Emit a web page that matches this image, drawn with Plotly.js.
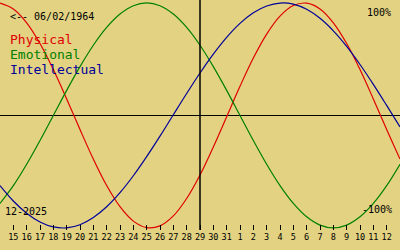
<!DOCTYPE html>
<html><head><meta charset="utf-8">
<script src="https://cdn.plot.ly/plotly-3.0.1.min.js"></script>
<style>html,body{margin:0;padding:0;background:#e2d282;}#chart{width:400px;height:250px;}</style>
</head><body><div id="chart"></div>
<script>
// day offsets from left edge (Dec 14, 2025)
var days = [0,1,2,3,4,5,6,7,8,9,10,11,12,13,14,15,16,17,18,19,20,21,22,23,24,25,26,27,28,29,30];
var physical = [0.998,0.946,0.823,0.639,0.408,0.147,-0.125,-0.388,-0.623,-0.811,-0.939,-0.997,-0.981,-0.893,-0.738,-0.529,-0.280,-0.011,0.259,0.510,0.723,0.883,0.977,0.998,0.946,0.823,0.639,0.408,0.147,-0.125,-0.388];
var emotional = [-0.782,-0.624,-0.434,-0.223,0.000,0.223,0.434,0.624,0.782,0.901,0.975,1.000,0.975,0.901,0.782,0.624,0.434,0.223,0.000,-0.223,-0.434,-0.624,-0.782,-0.901,-0.975,-1.000,-0.975,-0.901,-0.782,-0.624,-0.434];
var intellectual = [-0.623,-0.760,-0.869,-0.947,-0.991,-0.999,-0.971,-0.907,-0.811,-0.686,-0.536,-0.366,-0.184,0.006,0.195,0.377,0.545,0.694,0.818,0.912,0.973,0.999,0.989,0.943,0.863,0.752,0.614,0.453,0.276,0.089,-0.101];
var tickDays = [1,2,3,4,5,6,7,8,9,10,11,12,13,14,15,16,17,18,19,20,21,22,23,24,25,26,27,28,29];
var tickLabels = ["15","16","17","18","19","20","21","22","23","24","25","26","27","28","29","30","31","1","2","3","4","5","6","7","8","9","10","11","12"];
var todayDay = 15;

var RED='#e00000', GREEN='#008000', BLUE='#000099', BG='#e2d282';
var mono = 'DejaVu Sans Mono, monospace';

var traces = [
  {x: days, y: physical, mode:'lines', line:{color:RED, width:1.2, shape:'spline'}, hoverinfo:'skip'},
  {x: days, y: emotional, mode:'lines', line:{color:GREEN, width:1.2, shape:'spline'}, hoverinfo:'skip'},
  {x: days, y: intellectual, mode:'lines', line:{color:BLUE, width:1.2, shape:'spline'}, hoverinfo:'skip'}
];

function ann(text, x, y, xanchor, color, size){
  return {text:text, xref:'paper', yref:'paper', x:x, y:y, xanchor:xanchor, yanchor:'middle',
    showarrow:false, font:{family:mono, size:size, color:color}};
}

var layout = {
  width:400, height:250,
  margin:{l:0, r:0, t:0, b:20, pad:0},
  paper_bgcolor:BG, plot_bgcolor:BG,
  showlegend:false,
  xaxis:{range:[0,30], tickmode:'array', tickvals:tickDays, ticktext:tickLabels,
    ticks:'inside', ticklen:5, tickwidth:1, tickcolor:'#000', showgrid:false, zeroline:false,
    showline:false, tickfont:{family:mono, size:8.5, color:'#000'}, fixedrange:true},
  yaxis:{range:[-1.018,1.026], showticklabels:false, ticks:'', showgrid:false,
    zeroline:true, zerolinecolor:'#000', zerolinewidth:1.5, showline:false, fixedrange:true},
  shapes:[{type:'line', xref:'x', yref:'paper', x0:todayDay, x1:todayDay, y0:0, y1:1,
    line:{color:'#000', width:1.5}}],
  annotations:[
    ann('&lt;-- 06/02/1964', 0.02, 0.9274, 'left', '#000', 10),
    ann('Physical', 0.02, 0.8304, 'left', RED, 13),
    ann('Emotional', 0.02, 0.7652, 'left', GREEN, 13),
    ann('Intellectual', 0.02, 0.70, 'left', BLUE, 13),
    ann('100%', 0.9825, 0.9448, 'right', '#000', 10),
    ann('-100%', 0.9850, 0.087, 'right', '#000', 10),
    ann('12-2025', 0.008, 0.0796, 'left', '#000', 10)
  ]
};
Plotly.newPlot('chart', traces, layout, {staticPlot:true, displayModeBar:false});
</script></body></html>
